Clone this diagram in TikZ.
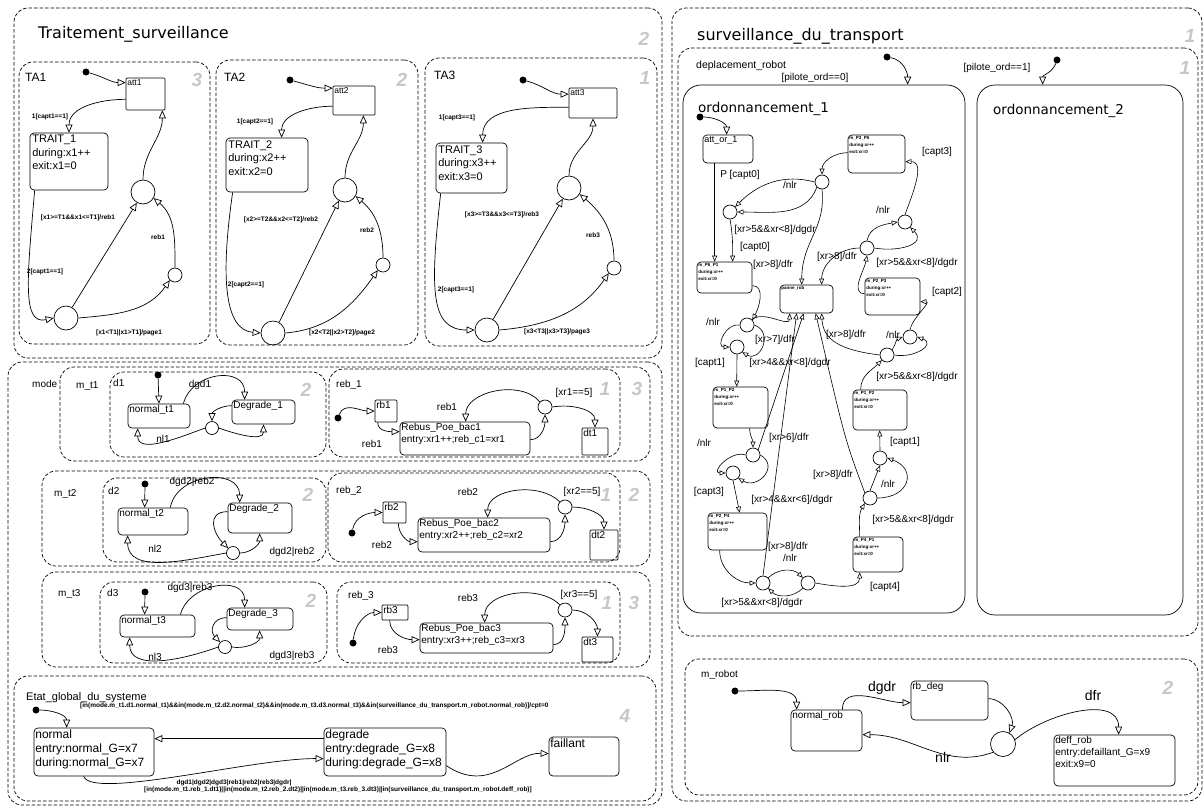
\documentclass[tikz,border=0pt]{standalone}
\usepackage{fontspec}
\setmainfont{Liberation Sans}
\newfontfamily\titlefont{DejaVu Sans}
\usetikzlibrary{arrows.meta,fit,positioning}

\tikzstyle{par} = [draw, dash pattern=on 3.5pt off 2pt, rounded corners=14pt, inner sep=0pt, line width=0.7pt]
\tikzstyle{st} = [draw, rounded corners=4pt, inner sep=0pt, line width=0.7pt]
\tikzstyle{junc} = [draw, circle, inner sep=0pt, minimum size=14pt, line width=0.7pt]
\tikzstyle{dflt} = [fill, circle, inner sep=0pt, minimum size=7pt]
\tikzstyle{trans} = [-{Triangle[open, length=8pt, width=7pt]}, line width=0.7pt]
\tikzstyle{strans} = [-{Triangle[open, length=6pt, width=5pt]}, line width=0.6pt]
\tikzstyle{stxt} = [anchor=north west, inner sep=1.5pt, align=left]
\tikzstyle{ttl} = [anchor=north west, inner sep=0pt, font=\titlefont\fontsize{16}{18}\selectfont]
\tikzstyle{hd} = [anchor=north west, inner sep=0pt, font=\fontsize{10}{12}\selectfont]
\tikzstyle{num} = [font=\fontsize{19}{19}\selectfont\bfseries\itshape, text=black!22]
\tikzstyle{fa} = [font=\fontsize{11}{13.5}\selectfont]
\tikzstyle{fb} = [font=\fontsize{10}{12}\selectfont]
\tikzstyle{fc} = [font=\fontsize{4.5}{7}\selectfont\bfseries]
\tikzstyle{fd} = [font=\fontsize{12}{14}\selectfont]
\tikzstyle{lbl} = [font=\fontsize{6.5}{7}\selectfont\bfseries, inner sep=0pt]
\tikzstyle{elbl} = [font=\fontsize{10}{11}\selectfont, inner sep=0pt]
\tikzstyle{blbl} = [font=\fontsize{14}{14}\selectfont, inner sep=0pt]

\begin{document}
\begin{tikzpicture}[x=1pt, y=1pt]
\useasboundingbox (0,0) rectangle (1204,-807);

% ---------------- Traitement_surveillance ----------------
\node[par, fit={(14,-8) (662,-358)}] (ts) {};
\node[ttl] at (38,-26) {Traitement\_surveillance};
\node[num] at (644,-39) {2};

\node[par, fit={(19,-62) (210,-344)}] (ta1) {};
\node[par, fit={(216,-60) (418,-345)}] (ta2) {};
\node[par, fit={(425,-58) (657,-346)}] (ta3) {};
\node[hd, font=\fontsize{12}{14}\selectfont] at (25,-73) {TA1};
\node[hd, font=\fontsize{12}{14}\selectfont] at (224,-73) {TA2};
\node[hd, font=\fontsize{12}{14}\selectfont] at (434,-71) {TA3};
\node[num] at (197,-80) {3};
\node[num] at (402,-80) {2};
\node[num] at (645,-78) {1};

% TA1
\node[dflt] (d1a) at (86,-72) {};
\node[st, rounded corners=1pt, fit={(126,-78) (165,-110)}] (att1) {};
\node[stxt, font=\fontsize{8.5}{10}\selectfont] at (att1.north west) {att1};
\node[st, fit={(30,-133) (108,-190)}] (trait1) {};
\node[stxt, fa, inner sep=2.5pt] at (trait1.north west) {TRAIT\_1\\during:x1++\\exit:x1=0};
\node[junc, minimum size=24pt] (jta1) at (143,-192) {};
\node[junc, minimum size=24pt] (jtb1) at (66,-318) {};
\node[junc] (jtc1) at (175,-275) {};
\draw[trans] (d1a) to[out=-15, in=180] (att1.150);
\draw[trans] (att1.195) to[out=180, in=90] (trait1.north);
\draw[trans] ([xshift=5pt]trait1.south west) .. controls (27,-280) and (22,-325) .. (jtb1.west);
\draw[trans] (jtb1.60) -- (jta1.240);
\draw[trans] (jtb1.east) to[out=5, in=235] (jtc1.225);
\draw[trans] (jtc1.north) to[out=90, in=-40] (jta1.-30);
\draw[trans] (jta1.north) to[out=90, in=-90] ([xshift=-3pt]att1.south east);
\node[lbl] at (50,-117) {1[capt1==1]};
\node[lbl] at (78,-218) {[x1>=T1\&\&x1<=T1]/reb1};
\node[lbl] at (45,-272) {2[capt1==1]};
\node[lbl] at (129,-333) {[x1<T1||x1>T1]/page1};
\node[lbl] at (158,-237) {reb1};

% TA2
\node[dflt] (d2a) at (290,-80) {};
\node[st, rounded corners=1pt, fit={(333,-86) (375,-115)}] (att2) {};
\node[stxt, font=\fontsize{8.5}{10}\selectfont] at (att2.north west) {att2};
\node[st, fit={(226,-138) (308,-192)}] (trait2) {};
\node[stxt, fa, inner sep=2.5pt] at (trait2.north west) {TRAIT\_2\\during:x2++\\exit:x2=0};
\node[junc, minimum size=24pt] (jta2) at (345,-190) {};
\node[junc, minimum size=24pt] (jtb2) at (273,-333) {};
\node[junc] (jtc2) at (383,-265) {};
\draw[trans] (d2a) to[out=-15, in=180] (att2.150);
\draw[trans] (att2.195) to[out=180, in=90] ([xshift=56pt]trait2.north west);
\draw[trans] ([xshift=7pt]trait2.south west) .. controls (220,-280) and (225,-330) .. (jtb2.west);
\draw[trans] (jtb2.60) -- (jta2.240);
\draw[trans] (jtb2.east) to[out=5, in=235] (jtc2.225);
\draw[trans] (jtc2.north) to[out=90, in=-40] (jta2.-30);
\draw[trans] (jta2.north) to[out=90, in=-90] ([xshift=-12pt]att2.south east);
\node[lbl] at (255,-122) {1[capt2==1]};
\node[lbl] at (281,-220) {[x2>=T2\&\&x2<=T2]/reb2};
\node[lbl] at (246,-285) {2[capt2==1]};
\node[lbl] at (342,-333) {[x2<T2||x2>T2]/page2};
\node[lbl] at (367,-230) {reb2};

% TA3
\node[dflt] (d3a) at (523,-80) {};
\node[st, rounded corners=1pt, fit={(569,-88) (617,-118)}] (att3) {};
\node[stxt, font=\fontsize{8.5}{10}\selectfont] at (att3.north west) {att3};
\node[st, fit={(436,-143) (507,-193)}] (trait3) {};
\node[stxt, fa, inner sep=2.5pt] at (trait3.north west) {TRAIT\_3\\during:x3++\\exit:x3=0};
\node[junc, minimum size=24pt] (jta3) at (569,-188) {};
\node[junc, minimum size=24pt] (jtb3) at (487,-330) {};
\node[junc] (jtc3) at (614,-268) {};
\draw[trans] (d3a) to[out=-15, in=180] (att3.160);
\draw[trans] (att3.190) to[out=180, in=90] ([xshift=47pt]trait3.north west);
\draw[trans] ([xshift=5pt]trait3.south west) .. controls (430,-290) and (430,-330) .. (jtb3.west);
\draw[trans] (jtb3.60) -- (jta3.240);
\draw[trans] (jtb3.east) to[out=5, in=235] (jtc3.225);
\draw[trans] (jtc3.north) to[out=90, in=-40] (jta3.-30);
\draw[trans] (jta3.north) to[out=90, in=-90] (att3.south);
\node[lbl] at (457,-118) {1[capt3==1]};
\node[lbl] at (502,-215) {[x3>=T3\&\&x3<=T3]/reb3};
\node[lbl] at (456,-290) {2[capt3==1]};
\node[lbl] at (557,-332) {[x3<T3||x3>T3]/page3};
\node[lbl] at (593,-235) {reb3};

% ---------------- mode ----------------
\node[par, fit={(8,-362) (662,-805)}] (mode) {};
\node[hd] at (32,-380) {mode};
\node[num] at (637,-389) {3};

% m_t1
\node[par, fit={(60,-367) (650,-461)}] (mt1) {};
\node[hd] at (76,-381) {m\_t1};
\node[par, fit={(110,-372) (326,-457)}] (d1) {};
\node[hd] at (113,-379) {d1};
\node[num] at (306,-390) {2};
\node[par, fit={(329,-369) (620,-457)}] (reb1) {};
\node[hd] at (336,-380) {reb\_1};
\node[num] at (605,-389) {1};

\node[dflt] (dd1) at (158,-375) {};
\node[st, fit={(128,-404) (190,-428)}] (nt1) {};
\node[stxt, fb] at (nt1.north west) {normal\_t1};
\node[st, fit={(232,-400) (295,-424)}] (deg1) {};
\node[stxt, fb] at (deg1.north west) {Degrade\_1};
\node[junc, minimum size=13pt] (jd1) at (212,-428) {};
\draw[trans] (dd1) -- (nt1.north);
\draw[trans] ([xshift=-7pt]nt1.north east) to[out=75, in=90, looseness=1.4] ([xshift=13pt]deg1.north west);
\draw[trans] ([yshift=-6pt]deg1.north west) to[out=180, in=90] (jd1.north);
\draw[trans] (jd1.west) to[out=200, in=-90] ([xshift=10pt]nt1.south west);
\draw[trans] (jd1.east) to[out=-20, in=-90] (deg1.south);
\node[elbl] at (200,-385) {dgd1};
\node[elbl] at (163,-439) {nl1};

\node[dflt] (dr1) at (338,-418) {};
\node[st, rounded corners=1pt, fit={(375,-400) (397,-422)}] (rb1) {};
\node[stxt, fb] at (rb1.north west) {rb1};
\node[st, fit={(400,-422) (530,-455)}] (rbb1) {};
\node[stxt, fb] at (rbb1.north west) {Rebus\_Poe\_bac1\\entry:xr1++;reb\_c1=xr1};
\node[junc] (jr1) at (545,-407) {};
\node[st, rounded corners=1pt, fit={(582,-428) (608,-455)}] (dt1) {};
\node[stxt, fb] at (dt1.north west) {dt1};
\draw[trans] (dr1) to[out=70, in=180] (rb1.west);
\draw[trans] ([xshift=3pt]rb1.south west) to[out=-90, in=180] ([yshift=-10pt]rbb1.north west);
\draw[trans] ([yshift=-18pt]rbb1.north east) to[out=0, in=-90] (jr1.south);
\draw[trans] (jr1.north west) to[out=130, in=90] ([xshift=66pt]rbb1.north west);
\draw[trans] (jr1.east) to[out=10, in=90] (dt1.north);
\node[elbl] at (372,-444) {reb1};
\node[elbl] at (447,-407) {reb1};
\node[elbl] at (574,-393) {[xr1==5]};

% m_t2
\node[par, fit={(42,-471) (650,-566)}] (mt2) {};
\node[hd] at (54,-489) {m\_t2};
\node[par, fit={(103,-478) (326,-562)}] (d2) {};
\node[hd] at (108,-487) {d2};
\node[num] at (308,-495) {2};
\node[par, fit={(328,-473) (620,-562)}] (reb2) {};
\node[hd] at (336,-486) {reb\_2};
\node[num] at (606,-495) {1};
\node[num] at (634,-495) {2};

\node[dflt] (dd2) at (145,-484) {};
\node[st, fit={(118,-508) (188,-535)}] (nt2) {};
\node[stxt, fb] at (nt2.north west) {normal\_t2};
\node[st, fit={(228,-503) (292,-533)}] (deg2) {};
\node[stxt, fb] at (deg2.north west) {Degrade\_2};
\node[junc, minimum size=13pt] (jd2) at (233,-553) {};
\draw[trans] (dd2) -- ([xshift=27pt]nt2.north west);
\draw[trans] ([xshift=-18pt]nt2.north east) to[out=80, in=90, looseness=1.3] ([xshift=12pt]deg2.north west);
\draw[trans] ([yshift=-9pt]deg2.north west) to[out=180, in=135, looseness=1.5] (jd2.north west);
\draw[trans] (jd2.west) to[out=190, in=-90] ([xshift=10pt]nt2.south west);
\draw[trans] (jd2.east) to[out=0, in=-90] ([xshift=32pt]deg2.south west);
\node[elbl] at (192,-482) {dgd2|reb2};
\node[elbl] at (155,-549) {nl2};
\node[elbl] at (292,-552) {dgd2|reb2};

\node[dflt] (dr2) at (352,-533) {};
\node[st, rounded corners=1pt, fit={(383,-502) (406,-523)}] (rb2) {};
\node[stxt, fb] at (rb2.north west) {rb2};
\node[st, fit={(418,-518) (550,-552)}] (rbb2) {};
\node[stxt, fb] at (rbb2.north west) {Rebus\_Poe\_bac2\\entry:xr2++;reb\_c2=xr2};
\node[junc] (jr2) at (565,-507) {};
\node[st, rounded corners=1pt, fit={(590,-530) (618,-560)}] (dt2) {};
\node[stxt, fb] at (dt2.north west) {dt2};
\draw[trans] (dr2) to[out=80, in=180] (rb2.west);
\draw[trans] ([xshift=-8pt]rb2.south east) to[out=-90, in=180] ([yshift=-24pt]rbb2.north west);
\draw[trans] ([yshift=-24pt]rbb2.north east) to[out=0, in=-90] (jr2.south);
\draw[trans] (jr2.north west) to[out=135, in=90] ([xshift=70pt]rbb2.north west);
\draw[trans] (jr2.east) to[out=0, in=90] (dt2.north);
\node[elbl] at (382,-545) {reb2};
\node[elbl] at (468,-492) {reb2};
\node[elbl] at (582,-492) {[xr2==5]};

% m_t3
\node[par, fit={(42,-572) (650,-667)}] (mt3) {};
\node[hd] at (58,-589) {m\_t3};
\node[par, fit={(100,-582) (327,-663)}] (d3) {};
\node[hd] at (107,-589) {d3};
\node[num] at (311,-601) {2};
\node[par, fit={(337,-582) (620,-663)}] (reb3) {};
\node[hd] at (348,-591) {reb\_3};
\node[num] at (607,-603) {1};
\node[num] at (634,-603) {3};

\node[dflt] (dd3) at (145,-592) {};
\node[st, fit={(120,-615) (195,-637)}] (nt3) {};
\node[stxt, fb] at (nt3.north west) {normal\_t3};
\node[st, fit={(227,-608) (293,-630)}] (deg3) {};
\node[stxt, fb] at (deg3.north west) {Degrade\_3};
\node[junc, minimum size=13pt] (jd3) at (225,-647) {};
\draw[trans] (dd3) -- ([xshift=25pt]nt3.north west);
\draw[trans] ([xshift=-15pt]nt3.north east) to[out=75, in=90, looseness=1.3] ([xshift=18pt]deg3.north west);
\draw[trans] ([yshift=-10pt]deg3.north west) to[out=180, in=135, looseness=1.5] (jd3.north west);
\draw[trans] (jd3.west) to[out=200, in=-90] ([xshift=10pt]nt3.south west);
\draw[trans] (jd3.east) to[out=-10, in=-90] ([xshift=33pt]deg3.south west);
\node[elbl] at (190,-588) {dgd3|reb3};
\node[elbl] at (155,-657) {nl3};
\node[elbl] at (292,-656) {dgd3|reb3};

\node[dflt] (dr3) at (353,-643) {};
\node[st, rounded corners=1pt, fit={(382,-605) (408,-620)}] (rb3) {};
\node[stxt, fb] at (rb3.north west) {rb3};
\node[st, fit={(420,-623) (553,-653)}] (rbb3) {};
\node[stxt, fb] at (rbb3.north west) {Rebus\_Poe\_bac3\\entry:xr3++;reb\_c3=xr3};
\node[junc] (jr3) at (565,-610) {};
\node[st, rounded corners=1pt, fit={(582,-637) (613,-662)}] (dt3) {};
\node[stxt, fb] at (dt3.north west) {dt3};
\draw[trans] (dr3) to[out=85, in=180] (rb3.west);
\draw[trans] ([xshift=8pt]rb3.south west) to[out=-90, in=180] ([yshift=-17pt]rbb3.north west);
\draw[trans] ([yshift=-22pt]rbb3.north east) to[out=0, in=-90] (jr3.south);
\draw[trans] (jr3.north west) to[out=135, in=90] ([xshift=65pt]rbb3.north west);
\draw[trans] (jr3.east) to[out=0, in=90] (dt3.north);
\node[elbl] at (388,-650) {reb3};
\node[elbl] at (468,-598) {reb3};
\node[elbl] at (579,-595) {[xr3==5]};

% Etat_global_du_systeme
\node[par, fit={(14,-676) (656,-801)}] (eg) {};
\node[hd, font=\fontsize{11}{13}\selectfont] at (26,-692) {Etat\_global\_du\_systeme};
\node[num] at (625,-716) {4};
\node[dflt] (dgl) at (36,-710) {};
\node[st, fit={(34,-728) (154,-776)}] (ngs) {};
\node[stxt, fd] at (ngs.north west) {normal\\entry:normal\_G=x7\\during:normal\_G=x7};
\node[st, fit={(324,-728) (446,-776)}] (dgs) {};
\node[stxt, fd] at (dgs.north west) {degrade\\entry:degrade\_G=x8\\during:degrade\_G=x8};
\node[st, fit={(549,-737) (619,-776)}] (fls) {};
\node[stxt, fd] at (fls.north west) {faillant};
\draw[trans] (dgl) to[out=0, in=90] ([xshift=33pt]ngs.north west);
\draw[trans] ([yshift=-11pt]dgs.north west) -- ([yshift=-11pt]ngs.north east);
\draw[trans] ([xshift=50pt]ngs.south west) .. controls (92,-800) and (255,-758) .. ([yshift=-31pt]dgs.north west);
\draw[trans] ([yshift=-38pt]dgs.north east) .. controls (490,-795) and (515,-752) .. ([yshift=-17pt]fls.north west);
\node[lbl, anchor=west] at (80,-706) {[in(mode.m\_t1.d1.normal\_t1)\&\&in(mode.m\_t2.d2.normal\_t2)\&\&in(mode.m\_t3.d3.normal\_t3)\&\&in(surveillance\_du\_transport.m\_robot.normal\_rob)]/cpt=0};
\node[lbl] at (234,-783) {dgd1|dgd2|dgd3|reb1|reb2|reb3|dgdr|};
\node[lbl] at (338,-790) {[in(mode.m\_t1.reb\_1.dt1)||in(mode.m\_t2.reb\_2.dt2)||in(mode.m\_t3.reb\_3.dt3)||in(surveillance\_du\_transport.m\_robot.deff\_rob)]};

% ---------------- surveillance_du_transport ----------------
\node[par, fit={(672,-8) (1202,-801)}] (sdt) {};
\node[ttl] at (697,-28) {surveillance\_du\_transport};
\node[num] at (1190,-36) {1};
\node[par, fit={(678,-48) (1198,-636)}] (dep) {};
\node[hd, font=\fontsize{10.5}{12}\selectfont] at (696,-61) {deplacement\_robot};
\node[num] at (1185,-68) {1};

\node[st, rounded corners=18pt, fit={(683,-85) (965,-613)}] (o1) {};
\node[ttl, font=\titlefont\fontsize{13.5}{15}\selectfont] at (698,-102) {ordonnancement\_1};
\node[st, rounded corners=18pt, fit={(977,-85) (1183,-615)}] (o2) {};
\node[ttl, font=\titlefont\fontsize{13.5}{15}\selectfont] at (993,-104) {ordonnancement\_2};
\node[dflt] (dor1) at (887,-57) {};
\draw[trans] (dor1) to[out=-10, in=90] ([xshift=225pt]o1.north west);
\node[elbl] at (815,-78) {[pilote\_ord==0]};
\node[dflt] (dor2) at (1057,-60) {};
\draw[trans] (dor2) to[out=-110, in=90] ([xshift=66pt]o2.north west);
\node[elbl] at (997,-68) {[pilote\_ord==1]};

% inside ordonnancement_1
\node[dflt] (dao) at (700,-117) {};
\node[st, fit={(703,-135) (753,-163)}] (ao) {};
\node[stxt, font=\fontsize{9}{11}\selectfont] at (ao.north west) {att\_or\_1};
\draw[trans] (dao) to[out=0, in=90] ([xshift=24pt]ao.north west);

\node[st, fit={(697,-262) (752,-293)}] (pa) {};
\node[stxt, fc] at (pa.north west) {m\_P6\_P1\\during:xr++\\exit:xr=0};
\node[st, fit={(848,-135) (905,-173)}] (pg) {};
\node[stxt, fc] at (pg.north west) {m\_P3\_P6\\during:xr++\\exit:xr=0};
\node[st, fit={(865,-278) (920,-315)}] (pf) {};
\node[stxt, fc] at (pf.north west) {m\_P2\_P3\\during:xr++\\exit:xr=0};
\node[st, fit={(853,-390) (907,-430)}] (pe) {};
\node[stxt, fc] at (pe.north west) {m\_P1\_P2\\during:xr++\\exit:xr=0};
\node[st, fit={(853,-537) (903,-572)}] (pd) {};
\node[stxt, fc] at (pd.north west) {m\_P4\_P1\\during:xr++\\exit:xr=0};
\node[st, fit={(713,-387) (768,-428)}] (pb) {};
\node[stxt, fc] at (pb.north west) {m\_P1\_P2\\during:xr++\\exit:xr=0};
\node[st, fit={(708,-513) (767,-550)}] (pc) {};
\node[stxt, fc] at (pc.north west) {m\_P2\_P4\\during:xr++\\exit:xr=0};
\node[st, fit={(780,-285) (833,-313)}] (pr) {};
\node[stxt, fc] at (pr.north west) {panne\_rob};

\node[junc] (jo1) at (822,-182) {};
\node[junc] (jo2) at (730,-212) {};
\node[junc] (jo3) at (905,-222) {};
\node[junc] (jo4) at (867,-248) {};
\node[junc] (jo5) at (747,-325) {};
\node[junc] (jo6) at (737,-347) {};
\node[junc] (jo7) at (910,-337) {};
\node[junc] (jo8) at (887,-355) {};
\node[junc] (jo9) at (753,-455) {};
\node[junc] (jo10) at (733,-473) {};
\node[junc] (jo11) at (880,-458) {};
\node[junc] (jo12) at (870,-498) {};
\node[junc] (jo13) at (763,-583) {};
\node[junc] (jo14) at (808,-583) {};

\draw[strans] ([xshift=12pt]ao.south west) -- ([xshift=18pt]pa.north west);
\node[elbl] at (740,-175) {P [capt0]};
\draw[strans] ([yshift=-18pt]pg.north west) to[out=180, in=90] (jo1.north);
\draw[strans] (jo1.west) to[out=165, in=45] (jo2.north east);
\draw[strans] (jo1.south west) to[out=-110, in=0] (jo2.east);
\draw[strans] (jo1.south) .. controls (826,-230) and (802,-240) .. ([xshift=22pt]pr.north west);
\draw[strans] (jo2.south) to[out=-80, in=90] ([xshift=36pt]pa.north west);
\node[elbl] at (790,-185) {/nlr};
\node[elbl] at (775,-230) {[xr>5\&\&xr<8]/dgdr};
\node[elbl] at (773,-265) {[xr>8]/dfr};
\node[elbl] at (755,-247) {[capt0]};

\draw[strans] ([yshift=-16pt]pf.north west) to[out=180, in=-100] (jo4.south);
\draw[strans] (jo4.west) to[out=180, in=90] ([xshift=42pt]pr.north west);
\draw[strans] (jo4.north) to[out=80, in=190] (jo3.west);
\draw[strans] (jo4.east) to[out=-10, in=-45, looseness=1.5] (jo3.south east);
\draw[strans] (jo3.north) to[out=70, in=0] ([yshift=-27pt]pg.north east);
\node[elbl] at (837,-257) {[xr>8]/dfr};
\node[elbl] at (883,-210) {/nlr};
\node[elbl] at (917,-263) {[xr>5\&\&xr<8]/dgdr};
\node[elbl] at (937,-152) {[capt3]};

\draw[strans] ([xshift=8pt]pe.north west) to[out=90, in=-135] (jo8.south west);
\draw[strans] (jo8.north east) to[out=60, in=200] (jo7.west);
\draw[strans] (jo8.east) to[out=-10, in=-20, looseness=1.8] (jo7.east);
\draw[strans] (jo8.west) .. controls (840,-350) and (823,-340) .. ([xshift=42pt]pr.south west);
\draw[strans] (jo7.north) to[out=80, in=0] ([yshift=-24pt]pf.north east);
\node[elbl] at (893,-335) {/nlr};
\node[elbl] at (917,-377) {[xr>5\&\&xr<8]/dgdr};
\node[elbl] at (846,-335) {[xr>8]/dfr};
\node[elbl] at (947,-292) {[capt2]};

\draw[strans] ([xshift=7pt]pd.north west) to[out=90, in=-120] (jo12.south west);
\draw[strans] (jo12.north) -- (jo11.south);
\draw[strans] (jo12.east) to[out=0, in=-20, looseness=2] (jo11.east);
\draw[strans] (jo12.north west) .. controls (845,-440) .. ([xshift=36pt]pr.south west);
\draw[strans] (jo11.north) -- ([xshift=27pt]pe.south west);
\node[elbl] at (888,-484) {/nlr};
\node[elbl] at (913,-520) {[xr>5\&\&xr<8]/dgdr};
\node[elbl] at (833,-475) {[xr>8]/dfr};
\node[elbl] at (905,-442) {[capt1]};

\draw[strans] ([yshift=-24pt]pa.north east) to[out=0, in=60] (jo5.north east);
\draw[strans] (jo5.west) to[out=170, in=180, looseness=1.5] (jo6.west);
\draw[strans] (jo5.east) to[out=-20, in=-30, looseness=1.8] (jo6.south east);
\draw[strans] (jo5.north east) to[out=45, in=-90] ([xshift=10pt]pr.south west);
\draw[strans] (jo6.south) -- ([xshift=24pt]pb.north west);
\node[elbl] at (713,-322) {/nlr};
\node[elbl] at (790,-363) {[xr>4\&\&xr<8]/dgdr};
\node[elbl] at (775,-340) {[xr>7]/dfr};
\node[elbl] at (710,-363) {[capt1]};

\draw[strans] ([xshift=37pt]pb.south west) to[out=-90, in=90] (jo9.north);
\draw[strans] (jo9.west) to[out=160, in=180, looseness=1.5] (jo10.west);
\draw[strans] (jo9.east) to[out=-30, in=-30, looseness=1.8] (jo10.south east);
\draw[strans] (jo9.north east) -- ([xshift=24pt]pr.south west);
\draw[strans] (jo10.south) -- ([xshift=32pt]pc.north west);
\node[elbl] at (704,-443) {/nlr};
\node[elbl] at (792,-500) {[xr>4\&\&xr<6]/dgdr};
\node[elbl] at (789,-438) {[xr>6]/dfr};
\node[elbl] at (709,-492) {[capt3]};

\draw[strans] ([xshift=12pt]pc.south west) to[out=-90, in=180] (jo13.west);
\draw[strans] (jo13.north east) to[out=45, in=135] (jo14.north west);
\draw[strans] (jo14.south west) to[out=-135, in=-45] (jo13.south east);
\draw[strans] (jo13.north) -- ([xshift=17pt]pr.south west);
\draw[strans] (jo14.east) to[out=-10, in=-90] ([xshift=7pt]pd.south west);
\node[elbl] at (790,-558) {/nlr};
\node[elbl] at (762,-603) {[xr>5\&\&xr<8]/dgdr};
\node[elbl] at (788,-547) {[xr>8]/dfr};
\node[elbl] at (885,-587) {[capt4]};

% m_robot
\node[par, fit={(685,-659) (1198,-795)}] (mr) {};
\node[hd] at (701,-670) {m\_robot};
\node[num] at (1168,-688) {2};
\node[dflt] (drob) at (735,-691) {};
\node[st, fit={(791,-710) (862,-751)}] (nrob) {};
\node[stxt, fb] at (nrob.north west) {normal\_rob};
\node[st, fit={(911,-681) (988,-720)}] (rdeg) {};
\node[stxt, fb] at (rdeg.north west) {rb\_deg};
\node[junc, minimum size=25pt] (jrob) at (1003,-744) {};
\node[st, fit={(1054,-735) (1175,-786)}] (dfrob) {};
\node[stxt, fb] at (dfrob.north west) {deff\_rob\\entry:defaillant\_G=x9\\exit:x9=0};
\draw[trans] (drob) to[out=0, in=90] ([xshift=6pt]nrob.north west);
\draw[trans] ([xshift=-20pt]nrob.north east) to[out=90, in=180] ([yshift=-22pt]rdeg.north west);
\draw[trans] ([yshift=-18pt]rdeg.north east) to[out=0, in=70] (jrob.60);
\draw[trans] (jrob.20) to[out=40, in=90] ([xshift=65pt]dfrob.north west);
\draw[trans] (jrob.220) to[out=200, in=0] ([yshift=-25pt]nrob.north east);
\node[blbl] at (882,-688) {dgdr};
\node[blbl] at (1093,-695) {dfr};
\node[blbl] at (943,-757) {nlr};
\end{tikzpicture}
\end{document}
